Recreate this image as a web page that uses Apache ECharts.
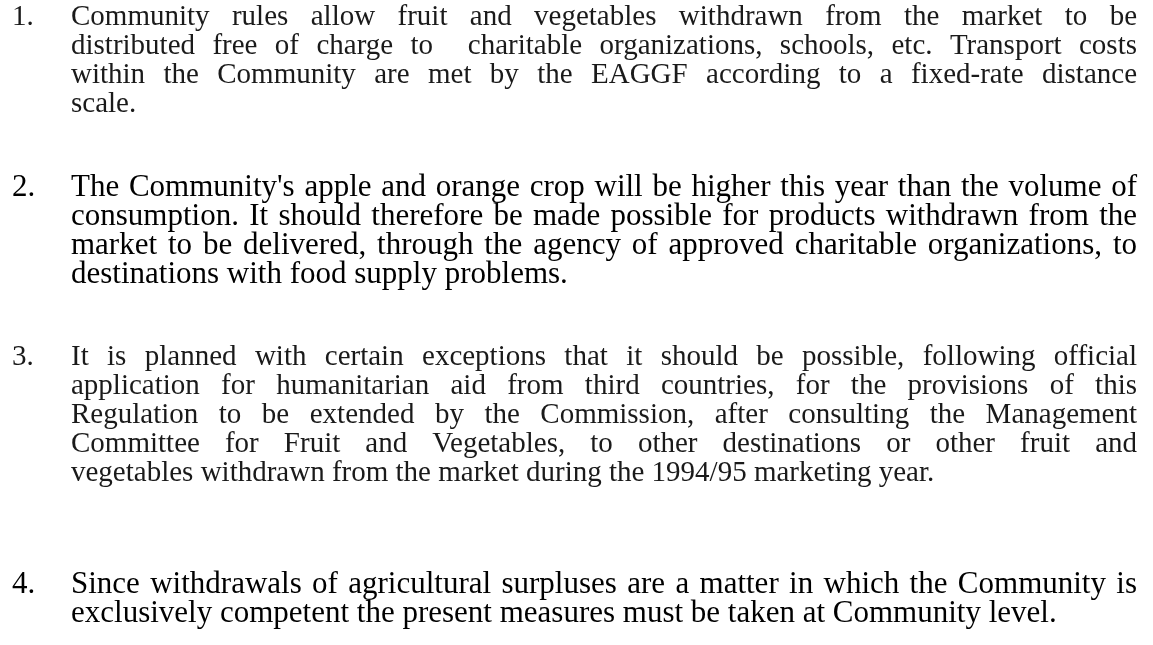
<!DOCTYPE html>
<html>
<head>
<meta charset="utf-8">
<title>Withdrawals of fruit and vegetables</title>
<script src="https://cdn.jsdelivr.net/npm/echarts@6/dist/echarts.min.js"></script>
<style>
  html, body { margin: 0; padding: 0; background: #fff; }
  #main { width: 1153px; height: 645px; }
</style>
</head>
<body>
<div id="main"></div>
<script>
// numbering of the paragraphs
const itemNumbers = ['1.', '2.', '3.', '4.'];

// lines of each paragraph, as broken in the original
const para1 = [
    'Community rules allow fruit and vegetables withdrawn from the market to be',
    'distributed free of charge to  charitable organizations, schools, etc. Transport costs',
    'within the Community are met by the EAGGF according to a fixed-rate distance',
    'scale.'
];
const para2 = [
    "The Community's apple and orange crop will be higher this year than the volume of",
    'consumption. It should therefore be made possible for products withdrawn from the',
    'market to be delivered, through the agency of approved charitable organizations, to',
    'destinations with food supply problems.'
];
const para3 = [
    'It is planned with certain exceptions that it should be possible, following official',
    'application for humanitarian aid from third countries, for the provisions of this',
    'Regulation to be extended by the Commission, after consulting the Management',
    'Committee for Fruit and Vegetables, to other destinations or other fruit and',
    'vegetables withdrawn from the market during the 1994/95 marketing year.'
];
const para4 = [
    'Since withdrawals of agricultural surpluses are a matter in which the Community is',
    'exclusively competent the present measures must be taken at Community level.'
];
const paragraphs = [para1, para2, para3, para4];

// layout
const FONT_FAMILY = '"Liberation Serif", "Times New Roman", serif';
const paraFontSizes = [29, 31, 29, 31];   // paragraphs 1 and 3 come from a narrower scan
const paraColors = ['#1a1a1a', '#000', '#1a1a1a', '#000'];
const NUM_X = 12;
const TEXT_LEFT = 71;
const TEXT_RIGHT = 1137;
const LINE_STEP = 29;
const firstBaselines = [27, 198, 367, 595];

const measureCtx = document.createElement('canvas').getContext('2d');
function textWidth(s, font) {
    measureCtx.font = font;
    return measureCtx.measureText(s).width;
}

function textEl(str, x, baseline, size, color) {
    return {
        type: 'text',
        x: x,
        // canvas 'middle' sits about a third of an em above the baseline
        y: baseline - size * 0.33,
        silent: true,
        style: {
            text: str,
            font: size + 'px ' + FONT_FAMILY,
            fill: color,
            align: 'left',
            verticalAlign: 'middle'
        }
    };
}

const elements = [];
paragraphs.forEach(function (lines, p) {
    const size = paraFontSizes[p];
    const font = size + 'px ' + FONT_FAMILY;
    const color = paraColors[p];
    elements.push(textEl(itemNumbers[p], NUM_X, firstBaselines[p], size, color));
    lines.forEach(function (line, i) {
        const baseline = firstBaselines[p] + i * LINE_STEP;
        const words = line.split(' ');
        const widths = words.map(function (w) { return textWidth(w, font); });
        const total = widths.reduce(function (a, b) { return a + b; }, 0);
        const isLast = i === lines.length - 1;
        let gap = textWidth(' ', font);
        // justified lines, last line of a paragraph left as is
        if (!isLast && words.length > 1) {
            gap = (TEXT_RIGHT - TEXT_LEFT - total) / (words.length - 1);
        }
        let x = TEXT_LEFT;
        words.forEach(function (w, k) {
            if (w) elements.push(textEl(w, x, baseline, size, color));
            x += widths[k] + gap;
        });
    });
});

const chart = echarts.init(document.getElementById('main'));
chart.setOption({
    backgroundColor: '#fff',
    animation: false,
    graphic: {
        elements: elements
    }
});
</script>
</body>
</html>
